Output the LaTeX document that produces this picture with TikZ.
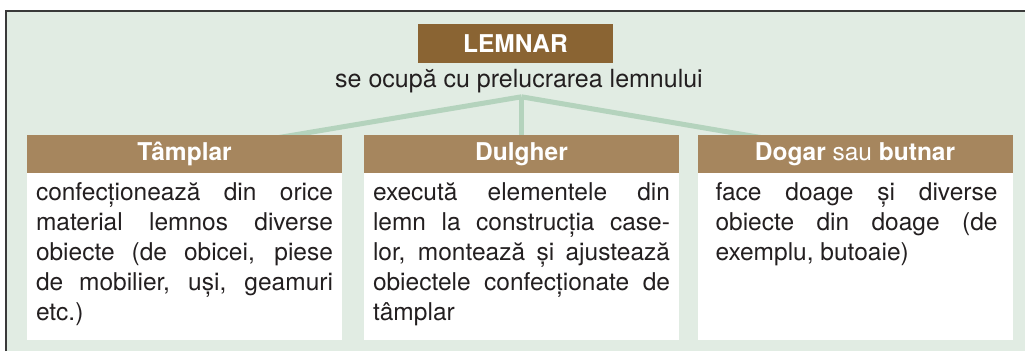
\documentclass[tikz,border=0pt]{standalone}
\usepackage{fontspec}
\setmainfont{TeX Gyre Heros}
\usetikzlibrary{positioning}
\usetikzlibrary{backgrounds}
\definecolor{panelgreen}{HTML}{E1ECE3}
\definecolor{linkgreen}{HTML}{B4D3BD}
\definecolor{titlebrown}{HTML}{8A6433}
\definecolor{headbrown}{HTML}{A6865E}
\definecolor{inkgray}{HTML}{231F20}
\definecolor{framegray}{HTML}{3A3A3A}
\newcommand{\jline}[1]{\makebox[\linewidth][s]{#1}\\}

\begin{document}
\begin{tikzpicture}[x=1pt, y=-1pt,
    titlebox/.style={fill=titlebrown, text=white, font=\bfseries\fontsize{24.5}{28}\selectfont,
      minimum width=195pt, minimum height=39pt, inner sep=0pt},
    headbox/.style={fill=headbrown, text=white, font=\bfseries\fontsize{24.5}{28}\selectfont,
      minimum width=315pt, minimum height=38pt, inner sep=0pt},
    bodybox/.style={fill=white, text=inkgray, inner xsep=9pt, inner ysep=9pt,
      font=\fontsize{24.5}{30}\selectfont},
    link/.style={draw=linkgreen, line width=5pt}]
  \useasboundingbox (0,0) rectangle (1025,351);

  % title and its line
  \node[titlebox] (lemnar) at (515.5,43.5) {LEMNAR};
  \node[text=inkgray, font=\fontsize{25}{30}\selectfont] (subtitle) at (519,81)
    {se ocupă cu prelucrarea lemnului};

  % the three trades
  \node[headbox] (tamplar) at (184.5,154) {Tâmplar};
  \node[headbox] (dulgher) at (521.5,154) {Dulgher};
  \node[headbox] (dogar) at (855,154) {Dogar \mdseries sau \bfseries butnar};

  \node[bodybox, below=0pt of tamplar] (tamplartext) {\parbox[c][149pt][t]{297pt}{%
    \jline{confecționează din orice}
    \jline{material lemnos diverse}
    \jline{obiecte (de obicei, piese}
    \jline{de mobilier, uși, geamuri}
    etc.)}};
  \node[bodybox, below=0pt of dulgher] (dulghertext) {\parbox[c][149pt][t]{297pt}{%
    \jline{execută elementele din}
    \jline{lemn la construcția case-}
    \jline{lor, montează și ajustează}
    \jline{obiectele confecționate de}
    tâmplar}};
  \node[bodybox, below=0pt of dogar] (dogartext) {\hspace*{9pt}\parbox[c][149pt][t]{282pt}{%
    \jline{face doage și diverse}
    \jline{obiecte din doage (de}
    exemplu, butoaie)}\hspace*{6pt}};

  \coordinate (apex) at ([yshift=38pt]dulgher.north);

  \begin{scope}[on background layer]
    \fill[panelgreen] (6,11) rectangle (1025,351);
    \draw[framegray, line width=1.3pt] (6,351) -- (6,11) -- (1025,11);
    \draw[link] (apex) -- ([xshift=75pt, yshift=-6pt]tamplar.north);
    \draw[link] (apex) -- (dulgher.north);
    \draw[link] (apex) -- ([xshift=-75pt, yshift=-6pt]dogar.north);
  \end{scope}
\end{tikzpicture}
\end{document}
